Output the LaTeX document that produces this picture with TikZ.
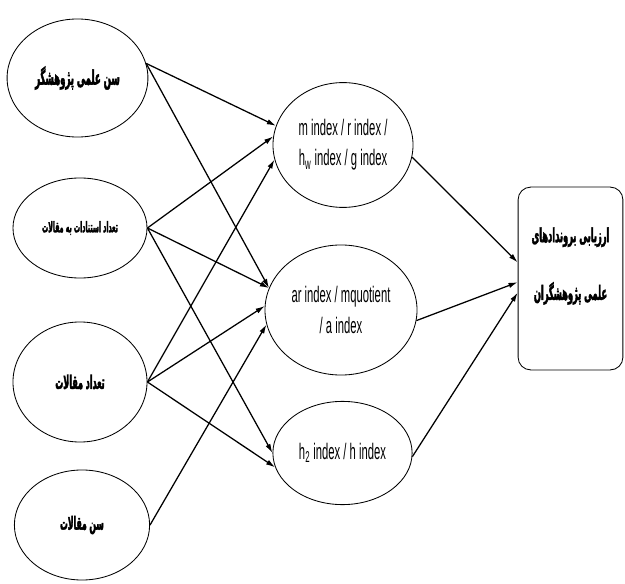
\documentclass[tikz,border=0pt]{standalone}
\usepackage{fontspec}
\setmainfont{Liberation Sans}
\newfontfamily\narrowlatin[FakeStretch=0.5]{Liberation Sans}
\newfontfamily\farsifont[Script=Arabic,FakeStretch=0.42,FakeBold=2]{DejaVu Sans}
\TeXXeTstate=1
\usetikzlibrary{arrows.meta,shapes.geometric}

\newcommand{\fa}[1]{{\farsifont\bfseries\beginR #1\endR}}

\begin{document}
\begin{tikzpicture}[x=0.025cm,y=-0.025cm,
  factor/.style={draw,ellipse,line width=0.6pt,inner sep=0pt},
  index/.style={draw,ellipse,line width=0.6pt,inner sep=0pt,align=center,
    font=\narrowlatin\fontsize{16}{21.5}\selectfont},
  outbox/.style={draw,rounded corners=9pt,line width=0.6pt,
    minimum width=2.62cm,minimum height=4.57cm},
  link/.style={-{Latex[length=6.5pt,width=3.8pt]},line width=0.9pt}]
  \useasboundingbox (0,0) rectangle (625,584);
  % left column
  \node[factor,minimum width=3.52cm,minimum height=2.95cm,font=\fontsize{14.5}{16}\selectfont] (age) at (77.5,78) {\fa{سن علمی پژوهشگر}};
  \node[factor,minimum width=3.35cm,minimum height=2.5cm,font=\fontsize{10.5}{13}\selectfont] (cites) at (80,228) {\fa{تعداد استنادات به مقالات}};
  \node[factor,minimum width=3.35cm,minimum height=3cm,font=\fontsize{13.5}{15}\selectfont] (papers) at (80,382) {\fa{تعداد مقالات}};
  \node[factor,minimum width=3.38cm,minimum height=2.75cm,font=\fontsize{13}{15}\selectfont] (paperage) at (82,525) {\fa{سن مقالات}};
  % middle column
  \node[index,minimum width=3.5cm,minimum height=3.12cm] (m1) at (343,145) {m index / r index /\\h\textsubscript{w} index / g index};
  \node[index,minimum width=3.8cm,minimum height=3.25cm] (m2) at (341,310) {ar index / mquotient\\/ a index};
  \node[index,minimum width=3.48cm,minimum height=2.58cm] (m3) at (342.5,453) {h\textsubscript{2} index / h index};
  % right box
  \node[outbox] (res) at (570.5,278.5) {};
  \node[align=center,font=\fontsize{14}{41}\selectfont] (reslabel) at (570.5,266) {\fa{ارزیابی بروندادهای}\\\fa{علمی پژوهشگران}};
  % arrows
  \draw[link] (age.12) -- (m1.164);
  \draw[link] (age.12) -- (m2.163);
  \draw[link] (cites.east) -- (m1.173);
  \draw[link] (cites.east) -- (m2.163);
  \draw[link] (cites.east) -- (m3.180);
  \draw[link] (papers.east) -- (m1.192);
  \draw[link] (papers.east) -- (m2.177);
  \draw[link] (papers.east) -- (m3.192);
  \draw[link] (paperage.east) -- (m2.191);
  \draw[link] (m1.350) -- (res.163);
  \draw[link] (m2.352) -- (res.184);
  \draw[link] (m3.357) -- (res.195);
\end{tikzpicture}
\end{document}
